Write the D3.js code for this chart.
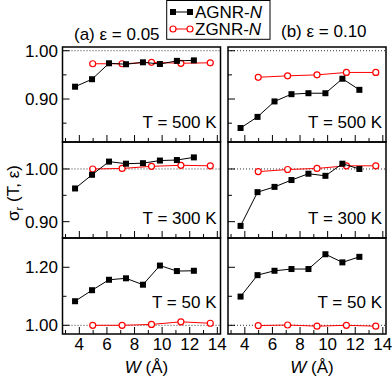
<!DOCTYPE html>
<html>
<head>
<meta charset="utf-8">
<script src="https://cdn.jsdelivr.net/npm/d3@7"></script>
<style>
  body { margin: 0; background: #fff; }
  text { font-family: "Liberation Sans", Arial, sans-serif; }
</style>
</head>
<body>
<script>
// ribbon widths (Angstrom)
var widthA = [3.69, 4.92, 6.15, 7.38, 8.61, 9.84, 11.07, 12.30];
var widthZ = [4.97, 7.10, 9.23, 11.36, 13.49];

// (a) eps = 0.05
var agnrA500 = [0.9255, 0.941, 0.974, 0.972, 0.976, 0.9725, 0.979, 0.980];
var zgnrA500 = [0.973, 0.973, 0.976, 0.974, 0.975];
var agnrA300 = [0.963, 0.989, 1.014, 1.010, 1.011, 1.016, 1.017, 1.022];
var zgnrA300 = [1.000, 1.001, 1.005, 1.007, 1.006];
var agnrA50 = [1.083, 1.121, 1.157, 1.162, 1.140, 1.206, 1.187, 1.188];
var zgnrA50 = [1.000, 1.000, 1.003, 1.012, 1.007];

// (b) eps = 0.10
var agnrB500 = [0.840, 0.863, 0.895, 0.910, 0.912, 0.912, 0.942, 0.919];
var zgnrB500 = [0.945, 0.948, 0.950, 0.955, 0.955];
var agnrB300 = [0.892, 0.956, 0.966, 0.979, 0.991, 0.987, 1.010, 1.000];
var zgnrB300 = [0.995, 0.999, 1.001, 1.006, 1.006];
var agnrB50 = [1.099, 1.173, 1.188, 1.194, 1.194, 1.245, 1.217, 1.236];
var zgnrB50 = [0.999, 1.001, 0.997, 1.000, 0.997];

var xTicks = d3.range(3, 15);
var xLabels = [4, 6, 8, 10, 12, 14];
var yMajor = [[0.90, 1.00], [0.90, 1.00], [1.00, 1.20]];
var yMinor = [[0.85, 0.95], [0.95], [1.10]];
var tempLabels = ['T = 500 K', 'T = 300 K', 'T = 50 K'];
var titles = ['(a) \u03b5 = 0.05', '(b) \u03b5 = 0.10'];

var agnr = [[agnrA500, agnrA300, agnrA50], [agnrB500, agnrB300, agnrB50]];
var zgnr = [[zgnrA500, zgnrA300, zgnrA50], [zgnrB500, zgnrB300, zgnrB50]];

var width = 392, height = 379;
var cols = [[62.5, 220.5], [228, 386]];
var rows = [[47, 142], [142, 238], [238, 334]];
var yDomains = [[0.811, 1.0077], [0.869, 1.0512], [0.970, 1.301]];
var tempBase = [13.7, 14, 25.7];

var svg = d3.select('body')
    .append('svg')
    .attr('width', width)
    .attr('height', height);

var fmt = d3.format('.2f');

function drawSquares(g, pts, x, y) {
    g.selectAll(null)
        .data(pts)
        .enter()
        .append('rect')
        .attr('x', function (d) { return x(d[0]) - 3; })
        .attr('y', function (d) { return y(d[1]) - 3; })
        .attr('width', 6)
        .attr('height', 6)
        .attr('fill', '#000');
}

function drawCircles(g, pts, x, y) {
    g.selectAll(null)
        .data(pts)
        .enter()
        .append('circle')
        .attr('cx', function (d) { return x(d[0]); })
        .attr('cy', function (d) { return y(d[1]); })
        .attr('r', 3)
        .attr('fill', '#fff')
        .attr('stroke', '#f00')
        .attr('stroke-width', 1.2);
}

cols.forEach(function (c, ci) {
    var x = d3.scaleLinear().domain([2.78, 14.23]).range(c);

    rows.forEach(function (r, ri) {
        var y = d3.scaleLinear().domain(yDomains[ri]).range([r[1], r[0]]);
        var g = svg.append('g');

        // dotted reference line at 1
        g.append('line')
            .attr('x1', c[0]).attr('x2', c[1])
            .attr('y1', y(1)).attr('y2', y(1))
            .attr('stroke', '#333')
            .attr('stroke-width', 1)
            .attr('stroke-dasharray', '1,2');

        // bottom ticks (inward)
        g.selectAll(null)
            .data(xTicks)
            .enter()
            .append('line')
            .attr('x1', function (d) { return x(d); })
            .attr('x2', function (d) { return x(d); })
            .attr('y1', r[1])
            .attr('y2', function (d) { return r[1] - (d % 2 === 0 ? 7 : 4); })
            .attr('stroke', '#000');

        // left ticks (inward)
        g.selectAll(null)
            .data(yMajor[ri].map(function (v) { return [v, 7]; })
                .concat(yMinor[ri].map(function (v) { return [v, 4]; })))
            .enter()
            .append('line')
            .attr('x1', c[0])
            .attr('x2', function (d) { return c[0] + d[1]; })
            .attr('y1', function (d) { return y(d[0]); })
            .attr('y2', function (d) { return y(d[0]); })
            .attr('stroke', '#000');

        if (ci === 0) {
            g.selectAll(null)
                .data(yMajor[ri])
                .enter()
                .append('text')
                .attr('x', 58)
                .attr('y', function (d) { return y(d); })
                .attr('dy', '0.36em')
                .attr('text-anchor', 'end')
                .attr('font-size', 17)
                .text(fmt);
        }

        if (ri === 2) {
            g.selectAll(null)
                .data(xLabels)
                .enter()
                .append('text')
                .attr('x', function (d) { return x(d); })
                .attr('y', 350)
                .attr('text-anchor', 'middle')
                .attr('font-size', 17)
                .text(function (d) { return d; });
        }

        var pa = widthA.map(function (w, i) { return [w, agnr[ci][ri][i]]; });
        var pz = widthZ.map(function (w, i) { return [w, zgnr[ci][ri][i]]; });
        var line = d3.line()
            .x(function (d) { return x(d[0]); })
            .y(function (d) { return y(d[1]); });

        g.append('path').attr('d', line(pz))
            .attr('fill', 'none').attr('stroke', '#f00').attr('stroke-width', 1);
        drawCircles(g, pz, x, y);
        g.append('path').attr('d', line(pa))
            .attr('fill', 'none').attr('stroke', '#000').attr('stroke-width', 1);
        drawSquares(g, pa, x, y);

        g.append('text')
            .attr('x', c[1] - 4)
            .attr('y', r[1] - tempBase[ri])
            .attr('text-anchor', 'end')
            .attr('font-size', 17)
            .text(tempLabels[ri]);

        g.append('rect')
            .attr('x', c[0]).attr('y', r[0])
            .attr('width', c[1] - c[0]).attr('height', r[1] - r[0])
            .attr('fill', 'none')
            .attr('stroke', '#000')
            .attr('stroke-width', 1.5);
    });

    var xl = svg.append('text')
        .attr('x', (c[0] + c[1]) / 2 + 5)
        .attr('y', 373)
        .attr('text-anchor', 'middle')
        .attr('font-size', 17);
    xl.append('tspan').attr('font-style', 'italic').text('W');
    xl.append('tspan').text(' (\u00c5)');
});

// panel titles
svg.append('text').attr('x', 74).attr('y', 39.5).attr('font-size', 17).text(titles[0]);
svg.append('text').attr('x', 281).attr('y', 36.7).attr('font-size', 17).text(titles[1]);

// y axis label
var yl = svg.append('text')
    .attr('transform', 'translate(19,193) rotate(-90)')
    .attr('text-anchor', 'middle')
    .attr('font-size', 17);
yl.append('tspan').text('\u03c3');
yl.append('tspan').attr('font-size', 11).attr('dy', 4).text('r');
yl.append('tspan').attr('dy', -4).text(' (T, \u03b5)');

// legend
var lg = svg.append('g');
lg.append('rect')
    .attr('x', 166.7).attr('y', 0.5)
    .attr('width', 103.3).attr('height', 38.8)
    .attr('fill', '#fff').attr('stroke', '#000').attr('stroke-width', 1);

var legendRows = [
    { name: 'AGNR-', color: '#000', y: 12 },
    { name: 'ZGNR-', color: '#f00', y: 29 }
];
legendRows.forEach(function (d, i) {
    lg.append('line')
        .attr('x1', 173).attr('x2', 190)
        .attr('y1', d.y).attr('y2', d.y)
        .attr('stroke', d.color);
    [173, 190].forEach(function (px) {
        if (i === 0) {
            lg.append('rect').attr('x', px - 3).attr('y', d.y - 3)
                .attr('width', 6).attr('height', 6).attr('fill', '#000');
        } else {
            lg.append('circle').attr('cx', px).attr('cy', d.y).attr('r', 3)
                .attr('fill', '#fff').attr('stroke', '#f00').attr('stroke-width', 1.2);
        }
    });
    var t = lg.append('text')
        .attr('x', 195)
        .attr('y', d.y + 6)
        .attr('font-size', 17);
    t.append('tspan').text(d.name);
    t.append('tspan').attr('font-style', 'italic').text('N');
});
</script>
</body>
</html>
